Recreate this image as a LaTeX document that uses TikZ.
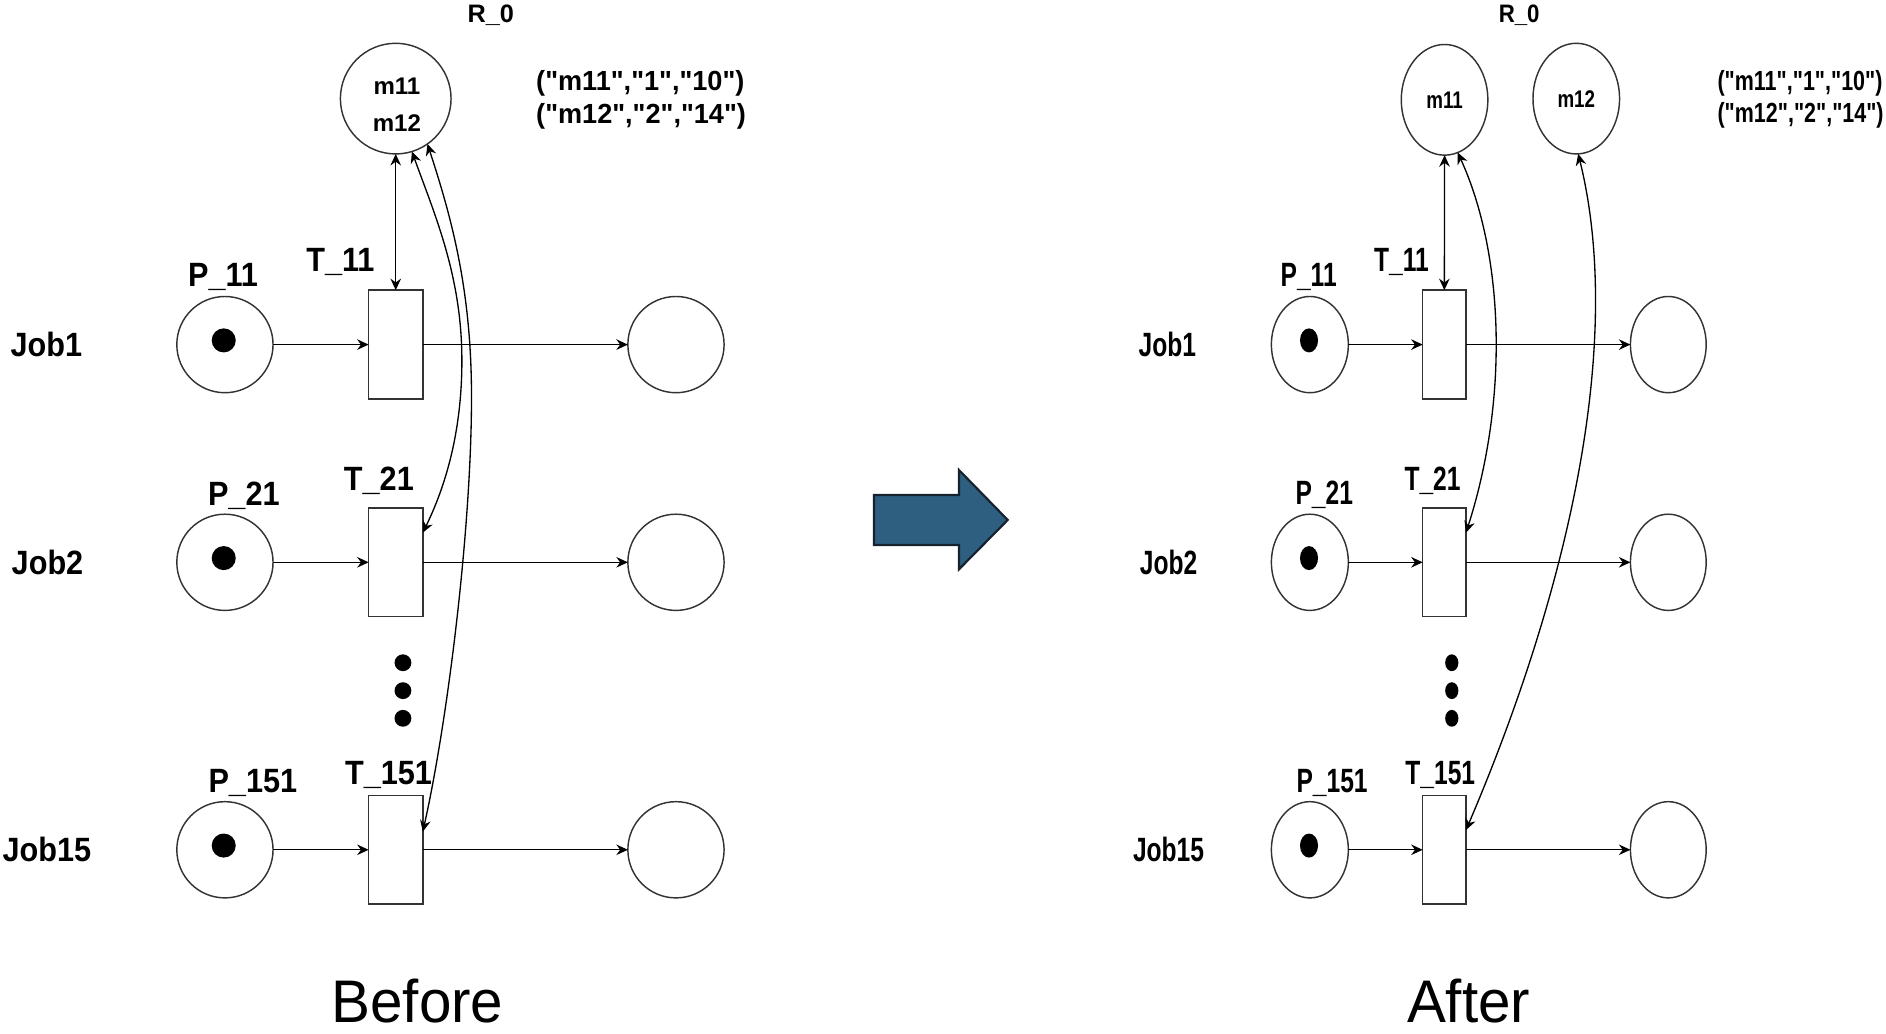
\documentclass[tikz,border=0pt]{standalone}
\usepackage{fontspec}
\setmainfont{Liberation Sans}[Ligatures=TeXOff]
\usepackage{graphicx}
\usetikzlibrary{shapes.geometric,arrows.meta,calc}
\definecolor{arrowfill}{HTML}{2F5F80}
\definecolor{arrowline}{HTML}{16222D}
\definecolor{edgegray}{HTML}{333333}
\newcommand{\hs}[2]{\scalebox{#1}[1]{#2}}
\begin{document}
\begin{tikzpicture}[x=0.5pt,y=-0.5pt,
  every node/.style={inner sep=0pt,outer sep=0pt},
  lbl/.style={font=\bfseries\fontsize{14}{16}\selectfont},
  rlbl/.style={font=\bfseries\fontsize{10.5}{12}\selectfont},
  mfont/.style={font=\bfseries\fontsize{10}{15.5}\selectfont},
  tup/.style={font=\bfseries\fontsize{11.5}{14}\selectfont,align=left},
  bigtxt/.style={font=\fontsize{25}{30}\selectfont},
  placeL/.style={circle,draw=edgegray,line width=0.6pt,minimum size=40pt},
  placeR/.style={ellipse,draw=edgegray,line width=0.6pt,minimum width=32pt,minimum height=40pt},
  outR/.style={ellipse,draw=edgegray,line width=0.6pt,minimum width=31.5pt,minimum height=40pt},
  transL/.style={rectangle,draw=edgegray,line width=0.6pt,minimum width=22.5pt,minimum height=45.25pt},
  transR/.style={rectangle,draw=edgegray,line width=0.6pt,minimum width=18pt,minimum height=45.25pt},
  tokenL/.style={circle,fill=black,minimum size=10pt},
  tokenR/.style={ellipse,fill=black,minimum width=7.5pt,minimum height=10pt},
  dotL/.style={circle,fill=black,minimum size=7pt},
  dotR/.style={ellipse,fill=black,minimum width=5.5pt,minimum height=7pt},
  arr/.style={draw=black,line width=0.55pt,-{Stealth[length=4.8pt,width=4.4pt,inset=1.6pt]}},
  dbl/.style={draw=black,line width=0.55pt,{Stealth[length=4.8pt,width=4.4pt,inset=1.6pt]}-{Stealth[length=4.8pt,width=4.4pt,inset=1.6pt]}}
]
\useasboundingbox (0,0) rectangle (1568,859.6);

% ================= LEFT (Before) =================
\node[rlbl] (rL) at (408,12.8) {R\_0};
\node[placeL,minimum size=46pt] (R0) at (329,82) {};
\node[mfont,align=center] (R0t) at (330,87) {m11\\m12};
\node[tup] (tupL) at (533,83) {\hs{0.98}{("m11","1","10")}\\\hs{0.98}{("m12","2","14")}};

% row labels
\node[lbl] (j1) at (38.5,286.5) {\hs{0.91}{Job1}};
\node[lbl] (j2) at (39.5,467.5) {\hs{0.91}{Job2}};
\node[lbl] (j15) at (39,706.5) {\hs{0.91}{Job15}};

% places, tokens, transitions, outputs
\node[placeL] (P11) at (187,286.5) {};
\node[placeL] (P21) at (187,467.5) {};
\node[placeL] (P151) at (187,706.5) {};
\node[tokenL] (k11) at (186,283) {};
\node[tokenL] (k21) at (186,464) {};
\node[tokenL] (k151) at (186,703) {};
\node[transL] (T11) at (329,286.5) {};
\node[transL] (T21) at (329,467.5) {};
\node[transL] (T151) at (329,706.5) {};
\node[placeL] (O11) at (562,286.5) {};
\node[placeL] (O21) at (562,467.5) {};
\node[placeL] (O151) at (562,706.5) {};

\node[lbl] (lp11) at (185.4,230) {\hs{0.91}{P\_11}};
\node[lbl] (lt11) at (283,218) {\hs{0.91}{T\_11}};
\node[lbl] (lp21) at (202.7,412) {\hs{0.91}{P\_21}};
\node[lbl] (lt21) at (315,400) {\hs{0.91}{T\_21}};
\node[lbl] (lp151) at (210.2,651) {\hs{0.91}{P\_151}};
\node[lbl] (lt151) at (323,644) {\hs{0.91}{T\_151}};

\node[dotL] (d1) at (335,551) {};
\node[dotL] (d2) at (335,574.2) {};
\node[dotL] (d3) at (335,597.2) {};

\draw[arr] (P11) -- (T11);
\draw[arr] (T11) -- (O11);
\draw[arr] (P21) -- (T21);
\draw[arr] (T21) -- (O21);
\draw[arr] (P151) -- (T151);
\draw[arr] (T151) -- (O151);
\draw[dbl] (R0) -- (T11);
\draw[dbl] (R0.-73) .. controls (362,180) and (384,230) .. (384,300)
  .. controls (384,360) and (370,405) .. ($(T21.east)+(0,-24.6)$);
\draw[dbl] (R0.-55) .. controls (375,180) and (392,240) .. (392,330)
  .. controls (392,440) and (372,600) .. ($(T151.east)+(0,-15)$);

\node[bigtxt] (before) at (347,832.5) {\hs{0.97}{Before}};

% ================= BIG ARROW =================
\draw[fill=arrowfill,draw=arrowline,line width=0.9pt,line join=miter]
  (726.6,411.5) -- (797.3,411.5) -- (797.3,390.8) -- (837.8,432.3)
  -- (797.3,473.3) -- (797.3,453.1) -- (726.6,453.1) -- cycle;

% ================= RIGHT (After) =================
\node[rlbl] (rR) at (1263,12.8) {\hs{0.88}{R\_0}};
\node[placeR,minimum width=36pt,minimum height=46pt,mfont] (M11) at (1201,83) {\hs{0.78}{m11}};
\node[placeR,minimum width=36pt,minimum height=46pt,mfont] (M12) at (1310.5,82) {\hs{0.78}{m12}};
\node[tup,font=\bfseries\fontsize{11.5}{13.5}\selectfont] (tupR) at (1497,82.5) {\hs{0.776}{("m11","1","10")}\\\hs{0.776}{("m12","2","14")}};

\node[lbl] (rj1) at (970.5,286.5) {\hs{0.73}{Job1}};
\node[lbl] (rj2) at (971.5,467.5) {\hs{0.73}{Job2}};
\node[lbl] (rj15) at (971.5,706.5) {\hs{0.73}{Job15}};

\node[placeR] (Q11) at (1089,286.5) {};
\node[placeR] (Q21) at (1089,467.5) {};
\node[placeR] (Q151) at (1089,706.5) {};
\node[tokenR] (rk11) at (1088.3,283) {};
\node[tokenR] (rk21) at (1088.3,464) {};
\node[tokenR] (rk151) at (1088.3,703) {};
\node[transR] (U11) at (1200.8,286.5) {};
\node[transR] (U21) at (1200.8,467.5) {};
\node[transR] (U151) at (1200.8,706.5) {};
\node[outR] (V11) at (1387,286.5) {};
\node[outR] (V21) at (1387,467.5) {};
\node[outR] (V151) at (1387,706.5) {};

\node[lbl] (rp11) at (1088,230) {\hs{0.73}{P\_11}};
\node[lbl] (rt11) at (1165.2,218) {\hs{0.73}{T\_11}};
\node[lbl] (rp21) at (1101,411) {\hs{0.73}{P\_21}};
\node[lbl] (rt21) at (1191,400) {\hs{0.73}{T\_21}};
\node[lbl] (rp151) at (1107.5,651) {\hs{0.73}{P\_151}};
\node[lbl] (rt151) at (1197.4,644) {\hs{0.73}{T\_151}};

\node[dotR] (e1) at (1207,551) {};
\node[dotR] (e2) at (1207,574.2) {};
\node[dotR] (e3) at (1207,597.2) {};

\draw[arr] (Q11) -- (U11);
\draw[arr] (U11) -- (V11);
\draw[arr] (Q21) -- (U21);
\draw[arr] (U21) -- (V21);
\draw[arr] (Q151) -- (U151);
\draw[arr] (U151) -- (V151);
\draw[dbl] (M11.south) -- (U11.north);
\draw[dbl] (M11.-76) .. controls (1250,210) and (1255,330) .. ($(U21.east)+(0,-24.6)$);
\draw[dbl] (M12.-88) .. controls (1352,290) and (1300,500) .. ($(U151.east)+(0,-16.4)$);

\node[bigtxt] (after) at (1221,832) {\hs{0.97}{After}};
\end{tikzpicture}
\end{document}
